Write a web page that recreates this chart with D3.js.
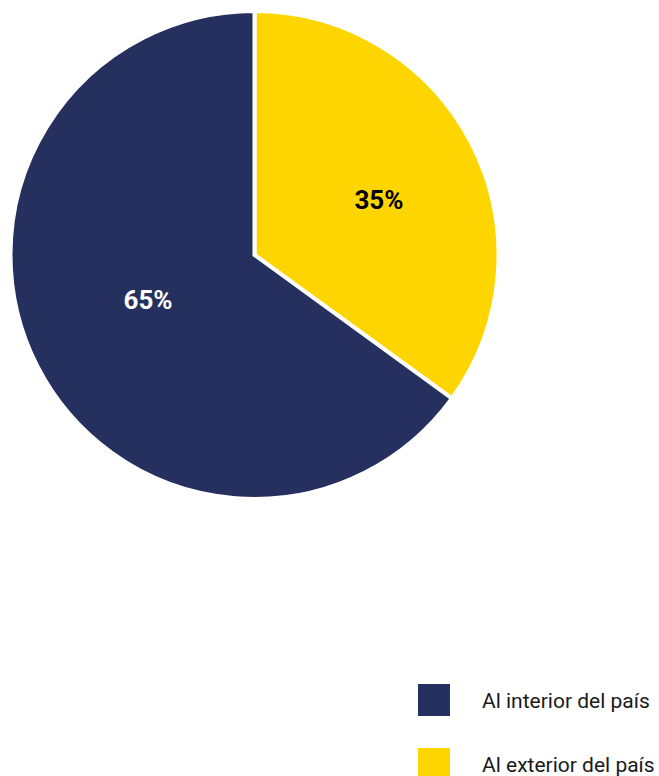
<!DOCTYPE html>
<html>
<head>
<meta charset="utf-8">
<script src="https://cdn.jsdelivr.net/npm/d3@7"></script>
<style>
html,body{margin:0;padding:0;background:#fff;}
svg{display:block;font-family:Roboto, "Noto Sans", sans-serif;}
</style>
</head>
<body>
<svg id="chart" width="659" height="776"></svg>
<script>
const categories = ["Al exterior del país", "Al interior del país"];
const values = [35, 65];
const labels = ["35%", "65%"];
const colors = ["#FFD500", "#26305E"];
const labelColors = ["#000000", "#FFFFFF"];
const legendOrder = ["Al interior del país", "Al exterior del país"];

const svg = d3.select("#chart");
const cx = 254.5, cy = 255, R = 244;

const pie = d3.pie().sort(null).value(d => d.value);
const data = pie(categories.map((c, i) => ({cat: c, value: values[i], i})));
const arc = d3.arc().innerRadius(0).outerRadius(R);
const labelArc = d3.arc().innerRadius(R * 0.3).outerRadius(R * 0.762);

const g = svg.append("g").attr("transform", `translate(${cx},${cy})`);
g.selectAll("path").data(data).enter().append("path")
  .attr("d", arc)
  .attr("fill", d => colors[d.data.i])
  .attr("stroke", "#fff")
  .attr("stroke-width", 4)
  .attr("stroke-linejoin", "miter");

const lg = svg.append("g").attr("transform", `translate(${cx + 9},${cy - 5})`);
lg.selectAll("text").data(data).enter().append("text")
  .attr("transform", d => { const c = labelArc.centroid(d); return `translate(${c[0]},${c[1] * 0.85})`; })
  .attr("text-anchor", "middle")
  .attr("dominant-baseline", "central")
  .attr("font-size", 26)
  .attr("font-weight", "bold")
  .attr("fill", d => labelColors[d.data.i])
  .text(d => labels[d.data.i]);

const ly = d3.scalePoint().domain(legendOrder).range([700, 764]);
const legend = svg.append("g");
legendOrder.forEach(name => {
  const i = categories.indexOf(name);
  legend.append("rect")
    .attr("x", 418).attr("y", ly(name) - 16)
    .attr("width", 32).attr("height", 32)
    .attr("fill", colors[i]);
  legend.append("text")
    .attr("x", 482).attr("y", ly(name) + 8)
    .attr("font-size", 21)
    .attr("fill", "#1a1a1a")
    .text(name);
});
</script>
</body>
</html>
